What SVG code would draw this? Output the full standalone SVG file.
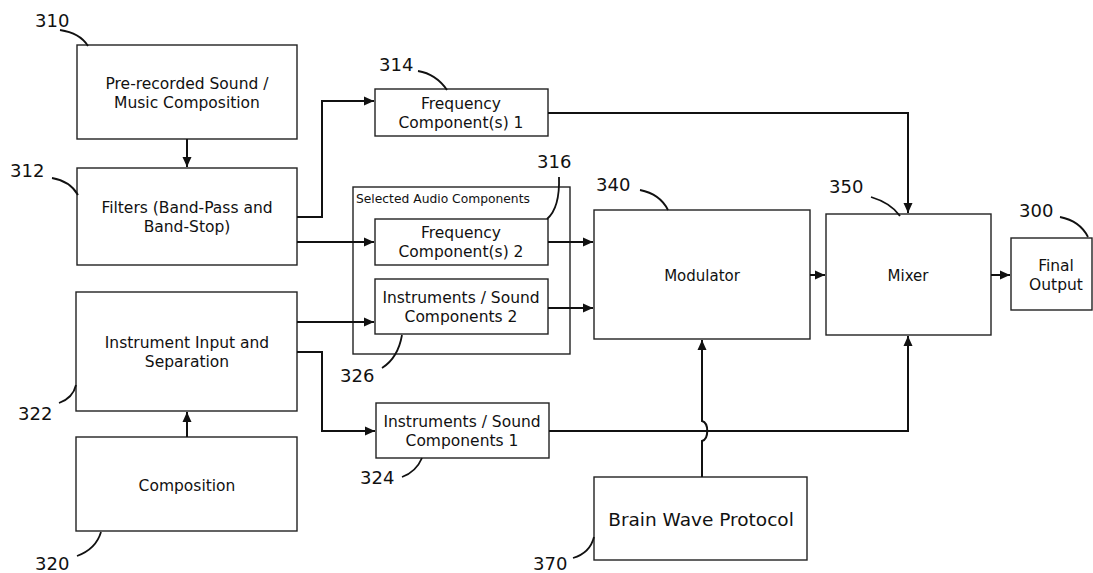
<svg xmlns="http://www.w3.org/2000/svg" width="1093" height="573" viewBox="0 0 1093 573">
<defs>
<style>
.box{fill:#fff;stroke:#222;stroke-width:1.4}
.frame{fill:none;stroke:#222;stroke-width:1.4}
.t{font-family:"DejaVu Sans",Verdana,sans-serif;font-size:15.5px;fill:#111;text-anchor:middle}
.n{font-family:"DejaVu Sans",Verdana,sans-serif;font-size:18px;fill:#111}
.c{fill:none;stroke:#111;stroke-width:2}
.ld{fill:none;stroke:#111;stroke-width:1.8}
</style>
<marker id="ah" markerWidth="11" markerHeight="11" refX="10" refY="5" orient="auto" markerUnits="userSpaceOnUse">
<path d="M0,0.5 L10,5 L0,9.5 Z" fill="#111"/>
</marker>
</defs>
<rect width="1093" height="573" fill="#fff"/>

<g id="n310">
<rect class="box" x="77" y="45" width="220" height="94"/>
<text class="t" x="187" y="89">Pre-recorded Sound /</text>
<text class="t" x="187" y="108">Music Composition</text>
<text class="n" x="35" y="27">310</text>
</g>
<g id="n312">
<rect class="box" x="77" y="168" width="220" height="97"/>
<text class="t" x="187" y="213">Filters (Band-Pass and</text>
<text class="t" x="187" y="232">Band-Stop)</text>
<text class="n" x="10" y="177">312</text>
</g>
<g id="n322">
<rect class="box" x="76" y="292" width="221" height="119"/>
<text class="t" x="187" y="348">Instrument Input and</text>
<text class="t" x="187" y="367">Separation</text>
<text class="n" x="18" y="420">322</text>
</g>
<g id="n320">
<rect class="box" x="76" y="437" width="221" height="94"/>
<text class="t" x="187" y="491">Composition</text>
<text class="n" x="35" y="570">320</text>
</g>
<g id="n314">
<rect class="box" x="375" y="89" width="173" height="47"/>
<text class="t" x="461" y="109">Frequency</text>
<text class="t" x="461" y="128">Component(s) 1</text>
<text class="n" x="379" y="71">314</text>
</g>
<g id="selected">
<rect class="frame" x="353" y="187" width="217" height="167"/>
<text x="356" y="203" font-family="DejaVu Sans, Verdana, sans-serif" font-size="12.3" fill="#111">Selected Audio Components</text>
</g>
<g id="n316">
<rect class="box" x="375" y="219" width="173" height="46"/>
<text class="t" x="461" y="238">Frequency</text>
<text class="t" x="461" y="257">Component(s) 2</text>
<text class="n" x="537" y="168">316</text>
</g>
<g id="n326">
<rect class="box" x="375" y="279" width="173" height="55"/>
<text class="t" x="461" y="303">Instruments / Sound</text>
<text class="t" x="461" y="322">Components 2</text>
<text class="n" x="340" y="382">326</text>
</g>
<g id="n324">
<rect class="box" x="376" y="403" width="173" height="55"/>
<text class="t" x="462" y="427">Instruments / Sound</text>
<text class="t" x="462" y="446">Components 1</text>
<text class="n" x="360" y="484">324</text>
</g>
<g id="n340">
<rect class="box" x="594" y="210" width="216" height="129"/>
<text class="t" x="702" y="281" style="font-size:15px">Modulator</text>
<text class="n" x="596" y="191">340</text>
</g>
<g id="n350">
<rect class="box" x="826" y="214" width="165" height="121"/>
<text class="t" x="908" y="281" style="font-size:15px">Mixer</text>
<text class="n" x="829" y="193">350</text>
</g>
<g id="n300">
<rect class="box" x="1011" y="238" width="81" height="72"/>
<text class="t" x="1056" y="271">Final</text>
<text class="t" x="1056" y="290">Output</text>
<text class="n" x="1019" y="217">300</text>
</g>
<g id="n370">
<rect class="box" x="594" y="477" width="213" height="83"/>
<text class="t" x="701" y="526" style="font-size:18.5px">Brain Wave Protocol</text>
<text class="n" x="533" y="570">370</text>
</g>

<g id="leaders">
<path class="ld" d="M60,30 Q80,33 88,46"/>
<path class="ld" d="M52,178 Q70,181 78,195"/>
<path class="ld" d="M59,403 Q73,398 76,385"/>
<path class="ld" d="M77,556 Q96,549 101,532"/>
<path class="ld" d="M418,71 Q436,74 447,90"/>
<path class="ld" d="M559,177 Q560,208 547,219"/>
<path class="ld" d="M402,335 Q398,358 382,368"/>
<path class="ld" d="M422,458 Q416,472 402,477"/>
<path class="ld" d="M573,558 Q590,553 594,537"/>
<path class="ld" d="M640,190 Q660,194 668,210"/>
<path class="ld" d="M871,197 Q891,203 900,216"/>
<path class="ld" d="M1060,217 Q1080,221 1088,237"/>
</g>

<g id="connectors">
<path class="c" d="M187,139 V167" marker-end="url(#ah)"/>
<path class="c" d="M297,217 H322 V101 H374" marker-end="url(#ah)"/>
<path class="c" d="M297,242 H374" marker-end="url(#ah)"/>
<path class="c" d="M548,113 H908 V213" marker-end="url(#ah)"/>
<path class="c" d="M548,242 H593" marker-end="url(#ah)"/>
<path class="c" d="M548,308 H593" marker-end="url(#ah)"/>
<path class="c" d="M297,322 H374" marker-end="url(#ah)"/>
<path class="c" d="M297,352 H322 V431 H375" marker-end="url(#ah)"/>
<path class="c" d="M549,431 H908 V336" marker-end="url(#ah)"/>
<path class="c" d="M810,275 H825" marker-end="url(#ah)"/>
<path class="c" d="M991,275 H1010" marker-end="url(#ah)"/>
<path class="c" d="M187,437 V412" marker-end="url(#ah)"/>
<path class="c" d="M702,477 V441 C709,439 709,423 702,421 V340" marker-end="url(#ah)"/>
</g>
</svg>
